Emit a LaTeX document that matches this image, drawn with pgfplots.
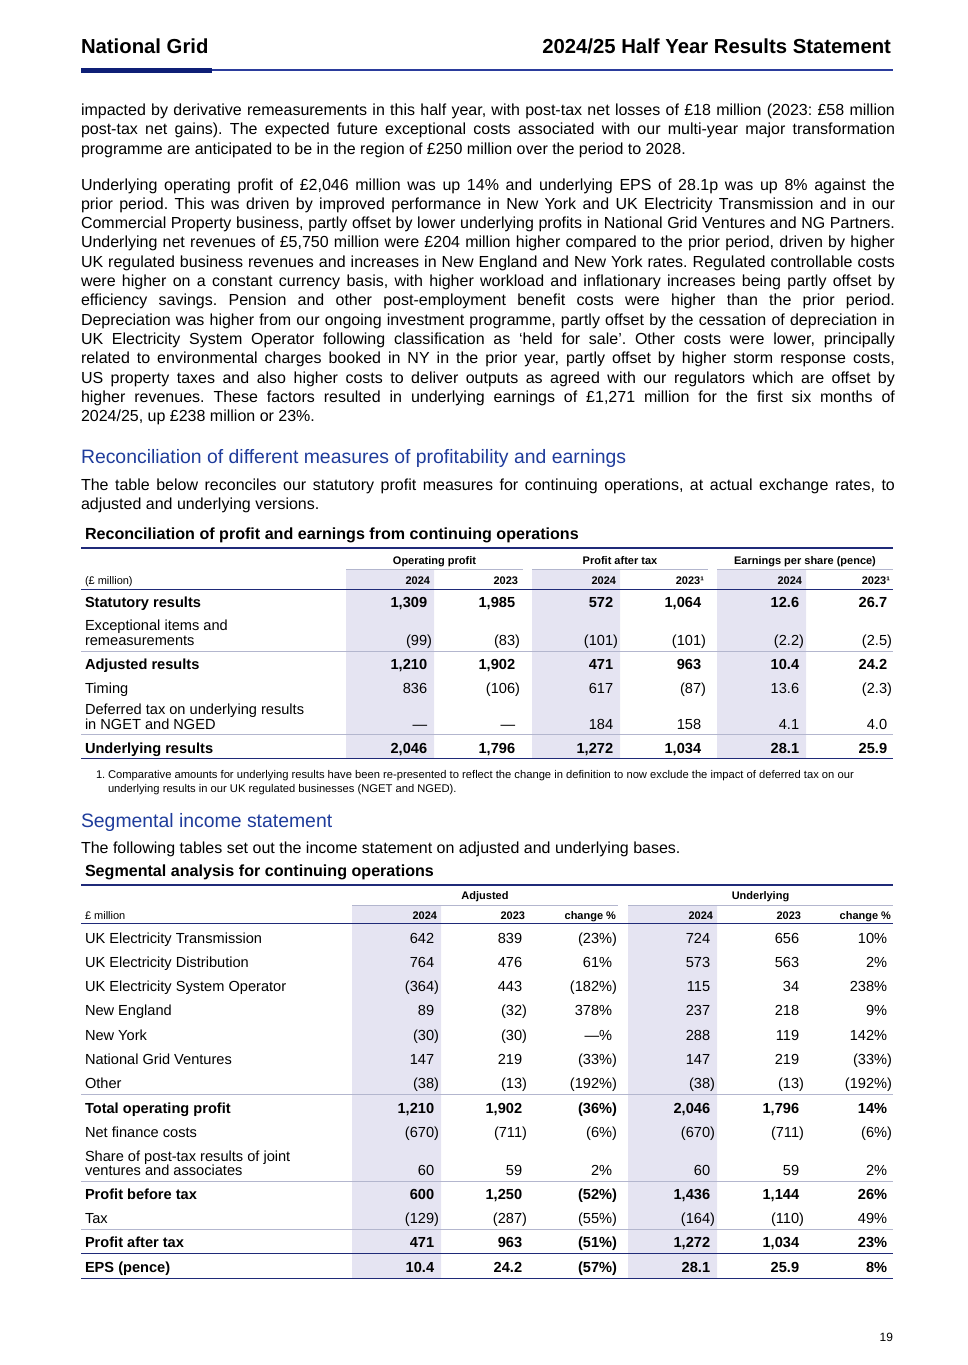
\documentclass[border=0pt]{standalone}
\usepackage{fontspec}
\setmainfont{Liberation Sans}
\usepackage{pgfplots}
\pgfplotsset{compat=1.18}

\definecolor{navy}{HTML}{1F2A78}
\definecolor{navydark}{HTML}{0E1F76}
\definecolor{rulemid}{HTML}{2B3C9C}
\definecolor{lightrule}{HTML}{B3B6CE}
\definecolor{shade}{HTML}{E5E4F2}
\definecolor{secblue}{HTML}{1F3C9B}

% sizes: 1 px of the page = 1 pt
\newcommand\bodyf{\fontsize{16}{19.3}\selectfont}
\newcommand\headf{\fontsize{20.3}{24}\selectfont\bfseries}
\newcommand\secf{\fontsize{19.4}{23}\selectfont}
\newcommand\ttlf{\fontsize{16.1}{19}\selectfont\bfseries}
\newcommand\smf{\fontsize{11}{13}\selectfont}
\newcommand\rowf{\fontsize{14.6}{16}\selectfont}
\newcommand\fnf{\fontsize{11.2}{14}\selectfont}

% numbers: positive ones get a phantom ")" so digits line up
\def\firstof#1#2\relax{#1}
\newcommand\V[1]{\if(\firstof#1\relax #1\else #1\phantom{)}\fi}

\tikzset{
  lt/.style={inner sep=0pt, outer sep=0pt, anchor=base west},
  rt/.style={inner sep=0pt, outer sep=0pt, anchor=base east},
  ct/.style={inner sep=0pt, outer sep=0pt, anchor=base},
}

% justified body line / last body line
\newcommand\jl[2]{\node[lt, font=\bodyf] at (axis cs:81,#1) {\makebox[814pt][s]{#2}};}
\newcommand\bl[2]{\node[lt, font=\bodyf] at (axis cs:81,#1) {#2};}
% row label
\newcommand\lab[3][]{\node[lt, font=\rowf#1] at (axis cs:85,#2) {#3};}
% six values, table 1 / table 2 columns
\newcommand\rowA[8]{%
  \node[rt, font=\rowf#2] at (axis cs:432,#1) {\V{#3}};
  \node[rt, font=\rowf#2] at (axis cs:520,#1) {\V{#4}};
  \node[rt, font=\rowf#2] at (axis cs:618,#1) {\V{#5}};
  \node[rt, font=\rowf#2] at (axis cs:706,#1) {\V{#6}};
  \node[rt, font=\rowf#2] at (axis cs:804,#1) {\V{#7}};
  \node[rt, font=\rowf#2] at (axis cs:892,#1) {\V{#8}};}
\newcommand\rowB[8]{%
  \node[rt, font=\rowf#2] at (axis cs:439,#1) {\V{#3}};
  \node[rt, font=\rowf#2] at (axis cs:527,#1) {\V{#4}};
  \node[rt, font=\rowf#2] at (axis cs:617,#1) {\V{#5}};
  \node[rt, font=\rowf#2] at (axis cs:715,#1) {\V{#6}};
  \node[rt, font=\rowf#2] at (axis cs:804,#1) {\V{#7}};
  \node[rt, font=\rowf#2] at (axis cs:892,#1) {\V{#8}};}
\newcommand\hr[4]{\draw[#4] (axis cs:#1,#3) -- (axis cs:#2,#3);}

\begin{document}
\frenchspacing
\begin{tikzpicture}
\begin{axis}[
  width=968pt, height=1365pt, scale only axis,
  xmin=0, xmax=968, ymin=0, ymax=1365,
  y dir=reverse,
  hide axis, clip=false,
]
% shaded 2024 columns
\addplot[draw=none, fill=shade] coordinates {(346,569) (434,569) (434,758) (346,758) (346,569)};
\addplot[draw=none, fill=shade] coordinates {(532,569) (620,569) (620,758) (532,758) (532,569)};
\addplot[draw=none, fill=shade] coordinates {(717,569) (806,569) (806,758) (717,758) (717,569)};
\addplot[draw=none, fill=shade] coordinates {(352,905) (441,905) (441,1278) (352,1278) (352,905)};
\addplot[draw=none, fill=shade] coordinates {(628,905) (717,905) (717,1278) (628,1278) (628,905)};

% page header
\node[lt, font=\headf] at (axis cs:81,53) {National Grid};
\node[rt, font=\headf] at (axis cs:891,53) {2024/25 Half Year Results Statement};
\hr{212}{893}{70}{rulemid, line width=1.4pt}
\hr{81}{212}{70}{navydark, line width=5pt}

% opening paragraphs
\jl{115.5}{impacted by derivative remeasurements in this half year, with post-tax net losses of £18 million (2023: £58 million}
\jl{134.8}{post-tax net gains). The expected future exceptional costs associated with our multi-year major transformation}
\bl{154.1}{programme are anticipated to be in the region of £250 million over the period to 2028.}

\jl{190.0}{Underlying operating profit of £2,046 million was up 14\% and underlying EPS of 28.1p was up 8\% against the}
\jl{209.3}{prior period. This was driven by improved performance in New York and UK Electricity Transmission and in our}
\jl{228.6}{Commercial Property business, partly offset by lower underlying profits in National Grid Ventures and NG Partners.}
\jl{247.9}{Underlying net revenues of £5,750 million were £204 million higher compared to the prior period, driven by higher}
\jl{267.2}{UK regulated business revenues and increases in New England and New York rates. Regulated controllable costs}
\jl{286.5}{were higher on a constant currency basis, with higher workload and inflationary increases being partly offset by}
\jl{305.8}{efficiency savings. Pension and other post-employment benefit costs were higher than the prior period.}
\jl{325.1}{Depreciation was higher from our ongoing investment programme, partly offset by the cessation of depreciation in}
\jl{344.4}{UK Electricity System Operator following classification as ‘held for sale’. Other costs were lower, principally}
\jl{363.7}{related to environmental charges booked in NY in the prior year, partly offset by higher storm response costs,}
\jl{383.0}{US property taxes and also higher costs to deliver outputs as agreed with our regulators which are offset by}
\jl{402.3}{higher revenues. These factors resulted in underlying earnings of £1,271 million for the first six months of}
\bl{421.6}{2024/25, up £238 million or 23\%.}

% section 1
\node[lt, font=\secf, text=secblue] at (axis cs:81,463) {Reconciliation of different measures of profitability and earnings};
\jl{490}{The table below reconciles our statutory profit measures for continuing operations, at actual exchange rates, to}
\bl{509.3}{adjusted and underlying versions.}

% table 1
\node[lt, font=\ttlf] at (axis cs:85,539) {Reconciliation of profit and earnings from continuing operations};
\hr{81}{893}{548}{navy, line width=1.4pt}
\node[ct, font=\smf\bfseries] at (axis cs:434.5,564) {Operating profit};
\node[ct, font=\smf\bfseries] at (axis cs:620,564) {Profit after tax};
\node[ct, font=\smf\bfseries] at (axis cs:805,564) {Earnings per share (pence)};
\hr{346}{523}{569}{lightrule, line width=1pt}
\hr{532}{708}{569}{lightrule, line width=1pt}
\hr{717}{893}{569}{lightrule, line width=1pt}
\node[lt, font=\smf] at (axis cs:85,584) {(£ million)};
\node[rt, font=\smf\bfseries] at (axis cs:430,584) {2024};
\node[rt, font=\smf\bfseries] at (axis cs:518,584) {2023};
\node[rt, font=\smf\bfseries] at (axis cs:616,584) {2024};
\node[rt, font=\smf\bfseries] at (axis cs:704,584) {2023¹};
\node[rt, font=\smf\bfseries] at (axis cs:802,584) {2024};
\node[rt, font=\smf\bfseries] at (axis cs:890,584) {2023¹};
\hr{81}{893}{589.5}{navy, line width=1.4pt}

\lab[\bfseries]{607}{Statutory results}
\rowA{607}{\bfseries}{1,309}{1,985}{572}{1,064}{12.6}{26.7}
\lab{630.5}{Exceptional items and}
\lab{645.5}{remeasurements}
\rowA{645.5}{}{(99)}{(83)}{(101)}{(101)}{(2.2)}{(2.5)}
\hr{81}{893}{651.5}{lightrule, line width=1pt}
\lab[\bfseries]{669}{Adjusted results}
\rowA{669}{\bfseries}{1,210}{1,902}{471}{963}{10.4}{24.2}
\lab{693}{Timing}
\rowA{693}{}{836}{(106)}{617}{(87)}{13.6}{(2.3)}
\lab{714.5}{Deferred tax on underlying results}
\lab{729.5}{in NGET and NGED}
\rowA{729.5}{}{—}{—}{184}{158}{4.1}{4.0}
\hr{81}{893}{734.5}{lightrule, line width=1pt}
\lab[\bfseries]{753}{Underlying results}
\rowA{753}{\bfseries}{2,046}{1,796}{1,272}{1,034}{28.1}{25.9}
\hr{81}{893}{758.5}{navy, line width=1.8pt}

\node[lt, font=\fnf] at (axis cs:96,778) {1.};
\node[lt, font=\fnf] at (axis cs:108,778) {Comparative amounts for underlying results have been re-presented to reflect the change in definition to now exclude the impact of deferred tax on our};
\node[lt, font=\fnf] at (axis cs:108,792) {underlying results in our UK regulated businesses (NGET and NGED).};

% section 2
\node[lt, font=\secf, text=secblue] at (axis cs:81,827) {Segmental income statement};
\bl{853}{The following tables set out the income statement on adjusted and underlying bases.}

% table 2
\node[lt, font=\ttlf] at (axis cs:85,876) {Segmental analysis for continuing operations};
\hr{81}{893}{885}{navy, line width=1.4pt}
\node[ct, font=\smf\bfseries] at (axis cs:485,899.5) {Adjusted};
\node[ct, font=\smf\bfseries] at (axis cs:760.5,899.5) {Underlying};
\hr{352}{618}{905}{lightrule, line width=1pt}
\hr{628}{893}{905}{lightrule, line width=1pt}
\node[lt, font=\smf] at (axis cs:85,919) {£ million};
\node[rt, font=\smf\bfseries] at (axis cs:437,919) {2024};
\node[rt, font=\smf\bfseries] at (axis cs:525,919) {2023};
\node[rt, font=\smf\bfseries] at (axis cs:616,919) {change \%};
\node[rt, font=\smf\bfseries] at (axis cs:713,919) {2024};
\node[rt, font=\smf\bfseries] at (axis cs:801,919) {2023};
\node[rt, font=\smf\bfseries] at (axis cs:891,919) {change \%};
\hr{81}{893}{923.5}{navy, line width=1.8pt}

\lab{943}{UK Electricity Transmission}
\rowB{943}{}{642}{839}{(23\%)}{724}{656}{10\%}
\lab{967.3}{UK Electricity Distribution}
\rowB{967.3}{}{764}{476}{61\%}{573}{563}{2\%}
\lab{991.6}{UK Electricity System Operator}
\rowB{991.6}{}{(364)}{443}{(182\%)}{115}{34}{238\%}
\lab{1015.9}{New England}
\rowB{1015.9}{}{89}{(32)}{378\%}{237}{218}{9\%}
\lab{1040.2}{New York}
\rowB{1040.2}{}{(30)}{(30)}{—\%}{288}{119}{142\%}
\lab{1064.5}{National Grid Ventures}
\rowB{1064.5}{}{147}{219}{(33\%)}{147}{219}{(33\%)}
\lab{1088.8}{Other}
\rowB{1088.8}{}{(38)}{(13)}{(192\%)}{(38)}{(13)}{(192\%)}
\hr{81}{893}{1094.5}{lightrule, line width=1pt}
\lab[\bfseries]{1113.5}{Total operating profit}
\rowB{1113.5}{\bfseries}{1,210}{1,902}{(36\%)}{2,046}{1,796}{14\%}
\lab{1137.5}{Net finance costs}
\rowB{1137.5}{}{(670)}{(711)}{(6\%)}{(670)}{(711)}{(6\%)}
\lab{1161.5}{Share of post-tax results of joint}
\lab{1175.5}{ventures and associates}
\rowB{1175.5}{}{60}{59}{2\%}{60}{59}{2\%}
\hr{81}{893}{1181}{lightrule, line width=1pt}
\lab[\bfseries]{1199}{Profit before tax}
\rowB{1199}{\bfseries}{600}{1,250}{(52\%)}{1,436}{1,144}{26\%}
\lab{1223}{Tax}
\rowB{1223}{}{(129)}{(287)}{(55\%)}{(164)}{(110)}{49\%}
\hr{81}{893}{1229.5}{lightrule, line width=1pt}
\lab[\bfseries]{1247.5}{Profit after tax}
\rowB{1247.5}{\bfseries}{471}{963}{(51\%)}{1,272}{1,034}{23\%}
\hr{81}{893}{1253.5}{navy, line width=1.4pt}
\lab[\bfseries]{1272.5}{EPS (pence)}
\rowB{1272.5}{\bfseries}{10.4}{24.2}{(57\%)}{28.1}{25.9}{8\%}
\hr{81}{893}{1278.5}{navy, line width=1.8pt}

% page number
\node[rt, font=\fontsize{12}{14}\selectfont] at (axis cs:893,1341) {19};
\end{axis}
\pgfresetboundingbox
\path (current axis.south west) rectangle (current axis.north east);
\end{tikzpicture}
\end{document}
